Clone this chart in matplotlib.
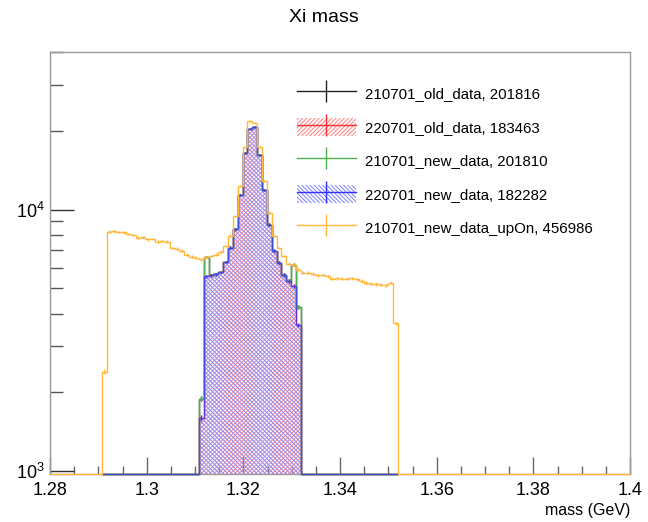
import matplotlib
matplotlib.use("Agg")
import matplotlib.pyplot as plt
from matplotlib.patches import Patch
from matplotlib.lines import Line2D
from matplotlib.ticker import MultipleLocator, LogLocator, NullFormatter
import numpy as np

plt.rcParams['font.family'] = ['Liberation Sans', 'DejaVu Sans']
plt.rcParams['hatch.linewidth'] = 0.8

# binning of the mass window (61 bins of ~1 MeV)
x_lo = 1.2907
bin_w = 0.001005
n_bins = 61
edges = x_lo + bin_w * np.arange(n_bins + 1)

labels = ["210701_old_data, 201816", "220701_old_data, 183463",
          "210701_new_data, 201810", "220701_new_data, 182282",
          "210701_new_data_upOn, 456986"]

# 210701_new_data_upOn (full window)
upOn = [2400, 8230, 8250, 8200, 8180, 8060, 8000, 7800, 7820, 7700,
        7720, 7530, 7590, 7530, 7130, 7080, 6970, 6730, 6610, 6540,
        6450, 6580, 6640, 6720, 6900, 7250, 7950, 9450, 12300, 17300,
        21800, 21500, 17300, 12900, 9730, 7930, 7130, 6640, 6200, 6150,
        5890, 5730, 5730, 5680, 5610, 5640, 5560, 5440, 5450, 5440,
        5440, 5470, 5420, 5330, 5240, 5210, 5190, 5150, 5130, 5260,
        3670]

# peak region (bins 20..40), zero elsewhere
new_220701 = [1600, 5560, 5600, 5660, 5770, 6300, 7150, 8400, 11400, 16400,
              20400, 20700, 16200, 11900, 8760, 6950, 6250, 5620, 5330, 5100,
              3610]
old_220701 = [1600, 5560, 5600, 5660, 5770, 6300, 7150, 8400, 11400, 16400,
              20400, 20700, 16200, 11900, 8760, 6950, 6250, 5620, 5330, 5100,
              3610]
new_210701 = [1890, 6580, 5600, 5660, 5770, 6300, 7150, 8400, 11400, 16400,
              20400, 20700, 16200, 11900, 8760, 6950, 6250, 5620, 5330, 6150,
              4240]
old_210701 = [1890, 6580, 5600, 5660, 5770, 6300, 7150, 8400, 11400, 16400,
              20400, 20700, 16200, 11900, 8760, 6950, 6250, 5620, 5330, 6150,
              4240]
peak_first = 20

c_black = '#222222'
c_red, c_red_h = '#ff3030', '#ff8c8c'
c_green = '#4cb04c'
c_blue, c_blue_h = '#3030ff', '#8c8cff'
c_orange = '#ffb73a'


def window(vals):
    full = np.zeros(n_bins)
    full[peak_first:peak_first + len(vals)] = vals
    return full


ymin, ymax = 975, 40000

fig = plt.figure(figsize=(6.48, 5.22), dpi=100)
ax = fig.add_axes([50 / 648, 1 - 474 / 522, 580 / 648, 422 / 522])
ax.set_yscale('log')


def draw_hist(edg, vals, color, hatch=None, hatch_color=None, z=3, alpha=1.0):
    vals = np.asarray(vals, dtype=float)
    shown = np.where(vals > 0, vals, ymin)
    if hatch:
        ax.stairs(shown, edg, baseline=ymin, fill=True, facecolor='none',
                  edgecolor=hatch_color, linewidth=0, hatch=hatch, zorder=z)
    ax.stairs(shown, edg, baseline=None, color=color, linewidth=1.0,
              alpha=alpha, zorder=z + 0.1, clip_on=False)
    centers = 0.5 * (edg[:-1] + edg[1:])
    m = vals > 0
    ax.errorbar(centers[m], vals[m], yerr=np.sqrt(vals[m]), fmt='none',
                ecolor=color, elinewidth=1.0, alpha=alpha, zorder=z + 0.1)


orange_edges = np.concatenate([[1.28], edges, [1.40]])
orange_vals = np.concatenate([[0], upOn, [0]])

draw_hist(edges, window(old_210701), c_black, z=3)
draw_hist(edges, window(old_220701), c_red, '////////', c_red_h, z=3.2)
draw_hist(edges, window(new_210701), c_green, z=3.4)
draw_hist(edges, window(new_220701), c_blue, '\\\\\\\\\\\\\\\\', c_blue_h,
          z=3.6, alpha=0.7)
draw_hist(orange_edges, orange_vals, c_orange, z=3.8)

ax.set_xlim(1.28, 1.40)
ax.set_ylim(ymin, ymax)

ax.xaxis.set_major_locator(MultipleLocator(0.02))
ax.xaxis.set_minor_locator(MultipleLocator(0.005))
ax.xaxis.set_major_formatter(plt.FuncFormatter(lambda v, p: f"{v:g}"))
ax.yaxis.set_major_locator(LogLocator(base=10))
ax.yaxis.set_minor_locator(LogLocator(base=10, subs=np.arange(2, 10)))
ax.yaxis.set_minor_formatter(NullFormatter())

ax.tick_params(axis='x', which='major', direction='in', length=12, width=1,
               color='#666666', labelsize=13, pad=6, top=False)
ax.tick_params(axis='x', which='minor', direction='in', length=6, width=1,
               color='#666666', top=False)
ax.tick_params(axis='y', which='major', direction='in', length=17, width=1,
               color='#333333', labelsize=13, pad=4, right=False)
ax.tick_params(axis='y', which='minor', direction='in', length=9, width=1,
               color='#555555', right=False)
for s in ax.spines.values():
    s.set_color('#999999')
    s.set_linewidth(1.0)

fig.text(0.5, 1 - 18 / 522, "Xi mass", ha='center', va='center', fontsize=14)
fig.text(630 / 648, 1 - 511 / 522, "mass (GeV)", ha='right', va='center',
         fontsize=11.5)

hl = dict(lw=1, marker='|', markersize=16, mew=1)
handles = [
    Line2D([], [], color=c_black, **hl),
    (Patch(facecolor='none', edgecolor=c_red_h, lw=0, hatch='////////'),
     Line2D([], [], color=c_red, **hl)),
    Line2D([], [], color=c_green, **hl),
    (Patch(facecolor='none', edgecolor=c_blue_h, lw=0,
           hatch='\\\\\\\\\\\\\\\\'),
     Line2D([], [], color=c_blue, **hl)),
    Line2D([], [], color=c_orange, **hl),
]
fig.legend(handles, labels, loc='upper left',
           bbox_to_anchor=(297 / 648, 1 - 84 / 522), frameon=False,
           fontsize=10.8, handlelength=3.9, handleheight=1.5,
           handletextpad=0.65, labelspacing=1.02, borderpad=0,
           borderaxespad=0, numpoints=1)

fig.savefig("out.png", dpi=100)
